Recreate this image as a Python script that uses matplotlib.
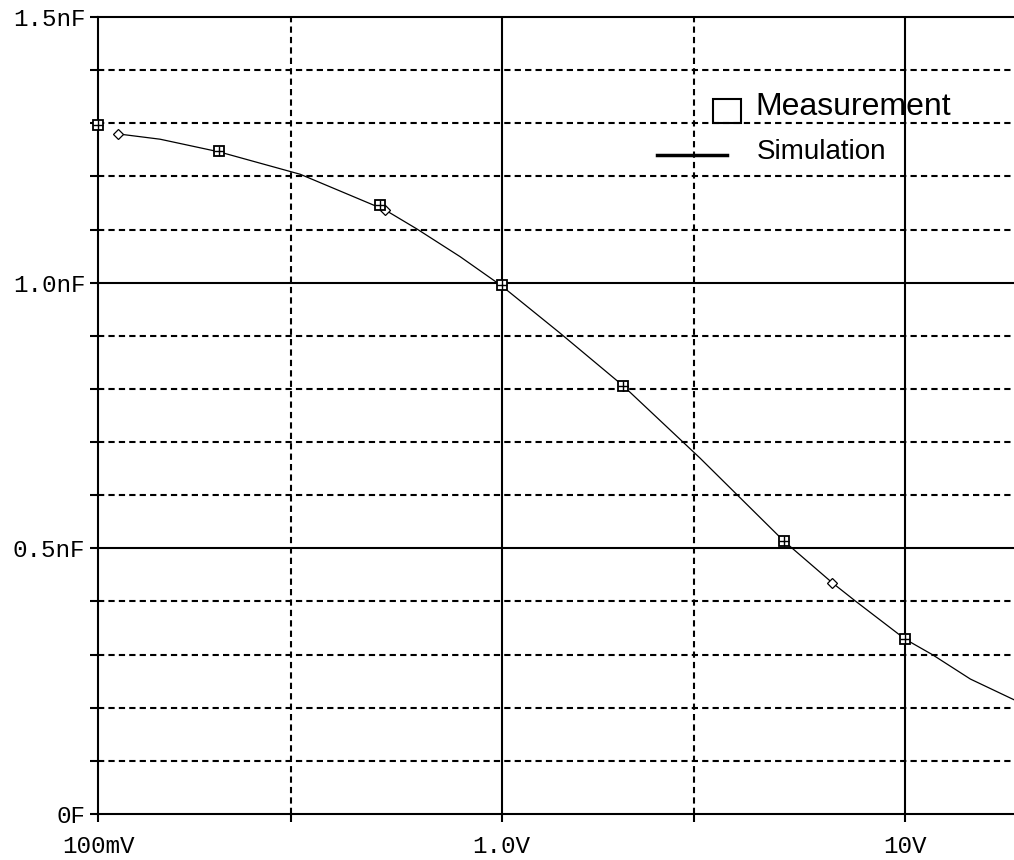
import matplotlib
matplotlib.use("Agg")
import matplotlib.pyplot as plt
from matplotlib.ticker import FixedLocator, NullFormatter
from matplotlib.patches import Rectangle
from matplotlib.lines import Line2D

# measured points (V, nF)
meas_v = [0.1, 0.2, 0.5, 1.0, 2.0, 5.0, 10.0]
meas_c = [1.296, 1.247, 1.146, 0.995, 0.806, 0.513, 0.330]

# simulated curve (V, nF)
sim_v = [0.112, 0.1425, 0.2, 0.317, 0.514, 0.617, 0.789, 1.0, 1.396, 2.0,
         3.10, 5.0, 6.6, 7.52, 10.0, 11.67, 14.5, 18.6]
sim_c = [1.280, 1.270, 1.246, 1.204, 1.137, 1.101, 1.049, 0.994, 0.905, 0.806,
         0.670, 0.514, 0.435, 0.401, 0.329, 0.300, 0.254, 0.215]

# diamond markers on the simulation trace
dia_v = [0.112, 0.514, 2.0, 6.6]
dia_c = [1.280, 1.137, 0.806, 0.435]

x_major = [0.1, 1.0, 10.0]
x_major_labels = ["100mV", "1.0V", "10V"]
x_minor = [0.3, 3.0]
y_major = [0.0, 0.5, 1.0, 1.5]
y_major_labels = ["0F", "0.5nF", "1.0nF", "1.5nF"]
y_minor = [0.1, 0.2, 0.3, 0.4, 0.6, 0.7, 0.8, 0.9, 1.1, 1.2, 1.3, 1.4]

fig = plt.figure(figsize=(10.14, 8.6), dpi=100)
ax = fig.add_axes([98 / 1014, 46 / 860, 916 / 1014, 797 / 860])
ax.set_xscale("log")
ax.set_xlim(0.1, 18.6)
ax.set_ylim(0, 1.5)

dash = (0, (3.0, 2.0))
for v in x_major[1:]:
    ax.axvline(v, color="black", lw=1.5, zorder=1)
for v in x_minor:
    ax.axvline(v, color="black", lw=1.5, ls=dash, zorder=1)
for c in [0.5, 1.0]:
    ax.axhline(c, color="black", lw=1.5, zorder=1)
for c in y_minor:
    ax.axhline(c, color="black", lw=1.5, ls=dash, zorder=1)

ax.plot(sim_v, sim_c, color="black", lw=0.9, zorder=3)
ax.plot(dia_v, dia_c, ls="none", marker="D", ms=5, mfc="white", mec="black", mew=0.9, zorder=4)
ax.plot(meas_v, meas_c, ls="none", marker="s", ms=7.5, mfc="white", mec="black", mew=1.3,
        zorder=5, clip_on=False)
ax.plot(meas_v, meas_c, ls="none", marker="+", ms=7.5, mec="black", mew=1.0, zorder=6, clip_on=False)

ax.xaxis.set_major_locator(FixedLocator(x_major))
ax.xaxis.set_minor_locator(FixedLocator(x_minor))
ax.xaxis.set_minor_formatter(NullFormatter())
ax.set_xticklabels(x_major_labels)
ax.yaxis.set_major_locator(FixedLocator(y_major))
ax.yaxis.set_minor_locator(FixedLocator(y_minor))
ax.set_yticklabels(y_major_labels)

for lab in ax.get_xticklabels() + ax.get_yticklabels():
    lab.set_family("Liberation Mono")
    lab.set_fontsize(17.5)

ax.tick_params(which="both", direction="out", length=6, width=1.5, color="black")
ax.tick_params(axis="y", pad=3)
ax.tick_params(axis="x", pad=9)

for s in ["left", "bottom", "top"]:
    ax.spines[s].set_linewidth(1.5)
ax.spines["right"].set_visible(False)

# legend
fig.add_artist(Rectangle((713 / 1014, 737 / 860), 28 / 1014, 24 / 860, fill=False,
                         ec="black", lw=1.5, transform=fig.transFigure))
fig.text(755 / 1014, 745 / 860, "Measurement", fontsize=23, family="Liberation Sans",
         va="baseline", ha="left")
fig.add_artist(Line2D([657 / 1014, 727 / 1014], [705 / 860, 705 / 860], color="black",
                      lw=2.5, transform=fig.transFigure))
fig.text(757 / 1014, 701 / 860, "Simulation", fontsize=20, family="Liberation Sans",
         va="baseline", ha="left")

fig.savefig("out.png", dpi=100)
